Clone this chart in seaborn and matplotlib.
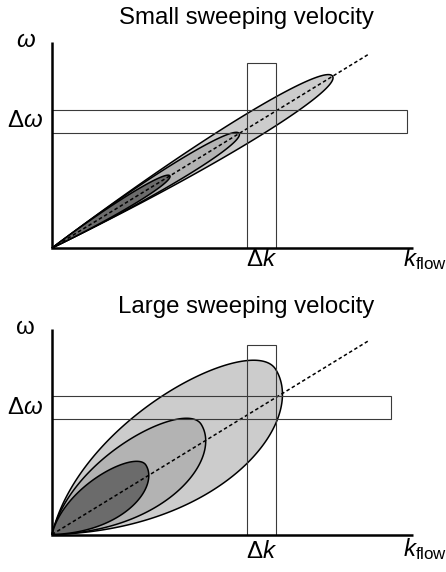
import numpy as np
import matplotlib
matplotlib.use("Agg")
import matplotlib.pyplot as plt
import seaborn as sns
import pandas as pd

# ---------------- data (schematic quantities, in k / omega units) ----------------
titles = ["Small sweeping velocity", "Large sweeping velocity"]
omega_labels = [r"$\omega$", "ω"]
diag_k = [0, 317]
diag_omega = [0, 194]
band_omega = [115.5, 138.5]          # Δω band
band_k_end = [355, 339]              # right end of Δω band per panel
dk_k = [195, 223.5]                  # Δk band
dk_top = [185, 190]                  # top of Δk band per panel
axis_k_end = 361
axis_omega_end = 206
lobe_scales = [1.0, 0.667, 0.42]
lobe_fills = ["#cccccc", "#b3b3b3", "#6b6b6b"]
# lobe shape per panel: length along diagonal, end offset, upper/lower tangent angles & handles
lobe_len = [329, 277]
lobe_end_off = [0, 24]
lobe_up_ang = [5.5, 45]
lobe_up_len = [190, 120]
lobe_up_hnd = [16, 45]
lobe_lo_ang = [5.5, 30]
lobe_lo_len = [190, 170]
lobe_lo_hnd = [16, 62]

# ---------------- style ----------------
sns.set_theme(style="white")
plt.rcParams["font.family"] = ["Liberation Sans", "DejaVu Sans"]
plt.rcParams["text.color"] = "black"
plt.rcParams["mathtext.fontset"] = "custom"
plt.rcParams["mathtext.rm"] = "Liberation Sans"
plt.rcParams["mathtext.it"] = "Liberation Sans:italic"
plt.rcParams["mathtext.bf"] = "Liberation Sans:bold"
FS = 17.3

fig = plt.figure(figsize=(4.46, 5.72), dpi=100)
ax_top = fig.add_axes([0, 282 / 572, 1, 290 / 572])
ax_bot = fig.add_axes([0, 0, 1, 282 / 572])
ax_top.set_xlim(-52, 394); ax_top.set_ylim(-42, 248)
ax_bot.set_xlim(-52, 394); ax_bot.set_ylim(-37.5, 244.5)

phi = np.arctan2(diag_omega[1], diag_k[1])


def bez(p0, p1, p2, p3, n=120):
    t = np.linspace(0, 1, n)[:, None]
    return ((1 - t) ** 3) * p0 + 3 * (1 - t) ** 2 * t * p1 + 3 * (1 - t) * t ** 2 * p2 + t ** 3 * p3


def lobe(i, s):
    L, ve = lobe_len[i], lobe_end_off[i]
    au, al = np.radians(lobe_up_ang[i]), np.radians(lobe_lo_ang[i])
    p0 = np.zeros(2)
    E = np.array([L, ve], float)
    up = bez(p0, lobe_up_len[i] * np.array([np.cos(au), np.sin(au)]),
             E + [0, lobe_up_hnd[i]], E)
    lo = bez(E, E - [0, lobe_lo_hnd[i]],
             lobe_lo_len[i] * np.array([np.cos(al), -np.sin(al)]), p0)
    uv = np.vstack([up, lo[1:]]) * s
    k = uv[:, 0] * np.cos(phi) - uv[:, 1] * np.sin(phi)
    w = uv[:, 0] * np.sin(phi) + uv[:, 1] * np.cos(phi)
    return k, w


for i, ax in enumerate([ax_top, ax_bot]):
    ax.set_axis_off()
    # lobes
    for s, c in zip(lobe_scales, lobe_fills):
        k, w = lobe(i, s)
        ax.fill(k, w, facecolor=c, edgecolor="black", lw=1.1, zorder=2)
    # dotted diagonal
    d = pd.DataFrame({"k": diag_k, "w": diag_omega})
    sns.lineplot(data=d, x="k", y="w", ax=ax, color="black", lw=1.1,
                 linestyle=(0, (2.3, 1.7)), zorder=4)
    # Δk box
    ax.plot([dk_k[0], dk_k[0], dk_k[1], dk_k[1]], [0, dk_top[i], dk_top[i], 0],
            color="#3a3a3a", lw=0.8, zorder=5, solid_joinstyle="miter")
    # Δω box
    ax.plot([0, band_k_end[i], band_k_end[i], 0, 0],
            [band_omega[0], band_omega[0], band_omega[1], band_omega[1], band_omega[0]],
            color="#3a3a3a", lw=0.8, zorder=5, solid_joinstyle="miter")
    # axes
    ax.plot([0, 0, axis_k_end], [axis_omega_end, 0, 0], color="black", lw=1.8,
            zorder=6, solid_joinstyle="miter", solid_capstyle="butt")
    # labels
    ax.text(194, 224 if i == 0 else 222, titles[i], ha="center", va="baseline",
            fontsize=FS, color="black")
    ax.text(-26.5, 201, omega_labels[i], ha="center", va="baseline", fontsize=FS,
            color="black")
    ax.text(-27, np.mean(band_omega), r"$\Delta\omega$", ha="center", va="center",
            fontsize=FS, color="black")
    ax.text(np.mean(dk_k), -18 if i == 0 else -24, r"$\Delta k$", ha="center",
            va="baseline", fontsize=FS, color="black")
    ax.text(351, -18 if i == 0 else -22, r"$k_{\mathrm{flow}}$", ha="left",
            va="baseline", fontsize=FS, color="black", clip_on=False)

fig.savefig("out.png", dpi=100)
